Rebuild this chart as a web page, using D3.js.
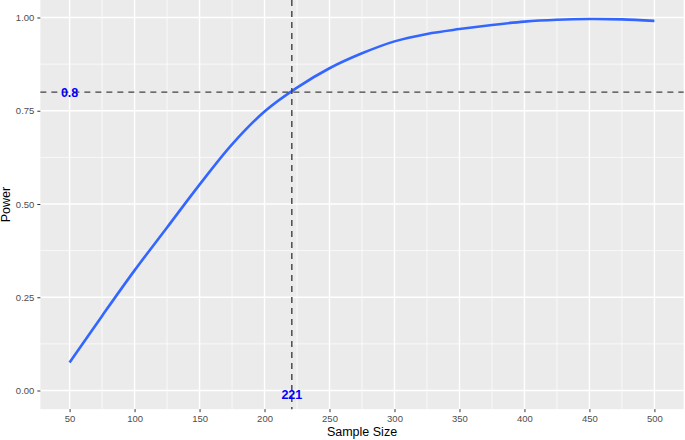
<!DOCTYPE html>
<html><head><meta charset="utf-8">
<script src="https://cdn.jsdelivr.net/npm/d3@7"></script>
<style>body{margin:0;background:#fff}svg{display:block}text{font-family:"Liberation Sans",Arial,sans-serif}</style>
</head><body><svg id="c" width="685" height="440"></svg>
<script>
const sampleSize = [50,75,100,125,150,175,200,225,250,275,300,325,350,375,400,425,450,475,500];
const power = [0.075,0.200,0.322,0.437,0.552,0.660,0.748,0.812,0.864,0.904,0.936,0.956,0.969,0.980,0.989,0.994,0.996,0.995,0.991];
const xTicks = [50,100,150,200,250,300,350,400,450,500];
const xMinor = [75,125,175,225,275,325,375,425,475];
const yTicks = [0,0.25,0.5,0.75,1];
const yTickLabels = ["0.00","0.25","0.50","0.75","1.00"];
const yMinor = [0.125,0.375,0.625,0.875];
const targetPower = 0.8;
const requiredN = 221;

const svg = d3.select("#c");
const L = 40.35, R = 683.65, T = -1.15, B = 409.15;
const x = d3.scaleLinear().domain([27.5,522.5]).range([L,R]);
const y = d3.scaleLinear().domain([-0.05,1.05]).range([B,T]);

svg.append("rect").attr("x",L).attr("y",0).attr("width",R-L).attr("height",B).attr("fill","#EBEBEB");
const g = svg.append("g");
g.selectAll(".xm").data(xMinor).join("line").attr("x1",d=>x(d)).attr("x2",d=>x(d)).attr("y1",0).attr("y2",B).attr("stroke","#fff").attr("stroke-width",0.7);
g.selectAll(".ym").data(yMinor).join("line").attr("y1",d=>y(d)).attr("y2",d=>y(d)).attr("x1",L).attr("x2",R).attr("stroke","#fff").attr("stroke-width",0.7);
g.selectAll(".xM").data(xTicks).join("line").attr("x1",d=>x(d)).attr("x2",d=>x(d)).attr("y1",0).attr("y2",B).attr("stroke","#fff").attr("stroke-width",1.4);
g.selectAll(".yM").data(yTicks).join("line").attr("y1",d=>y(d)).attr("y2",d=>y(d)).attr("x1",L).attr("x2",R).attr("stroke","#fff").attr("stroke-width",1.4);

const line = d3.line().x((d,i)=>x(sampleSize[i])).y(d=>y(d)).curve(d3.curveCatmullRom.alpha(0.5));
svg.append("path").datum(power).attr("d",line).attr("fill","none").attr("stroke","#3366FF").attr("stroke-width",2.6);

svg.append("line").attr("x1",L).attr("x2",R).attr("y1",y(targetPower)).attr("y2",y(targetPower))
  .attr("stroke","#404040").attr("stroke-width",1.4).attr("stroke-dasharray","6,5");
svg.append("line").attr("x1",x(requiredN)).attr("x2",x(requiredN)).attr("y1",0).attr("y2",B)
  .attr("stroke","#404040").attr("stroke-width",1.4).attr("stroke-dasharray","6,5");

svg.append("text").attr("x",x(50)).attr("y",y(targetPower)).attr("dy","0.36em").attr("text-anchor","middle")
  .attr("fill","#0000FF").attr("font-weight","bold").attr("font-size",12.5).text(String(targetPower));
svg.append("text").attr("x",x(requiredN)).attr("y",y(0)).attr("dy","0.36em").attr("transform","translate(0,4)").attr("text-anchor","middle")
  .attr("fill","#0000FF").attr("font-weight","bold").attr("font-size",12.5).text(String(requiredN));

const xAxis = svg.append("g").attr("transform",`translate(0,${B})`)
  .call(d3.axisBottom(x).tickValues(xTicks).tickSize(3).tickPadding(3));
const yAxis = svg.append("g").attr("transform",`translate(${L},0)`)
  .call(d3.axisLeft(y).tickValues(yTicks).tickFormat((d,i)=>yTickLabels[i]).tickSize(3).tickPadding(3));
[xAxis,yAxis].forEach(a=>{
  a.select(".domain").remove();
  a.selectAll(".tick line").attr("stroke","#333").attr("stroke-width",1);
  a.selectAll(".tick text").attr("fill","#4D4D4D").attr("font-size",9.5).attr("font-family","Liberation Sans, Arial, sans-serif");
});

svg.append("text").attr("x",(L+R)/2).attr("y",435.5).attr("text-anchor","middle").attr("font-size",12.5).attr("fill","#000").text("Sample Size");
svg.append("text").attr("transform",`translate(10,${(0+B)/2}) rotate(-90)`).attr("text-anchor","middle").attr("font-size",12.5).attr("fill","#000").text("Power");
</script></body></html>
